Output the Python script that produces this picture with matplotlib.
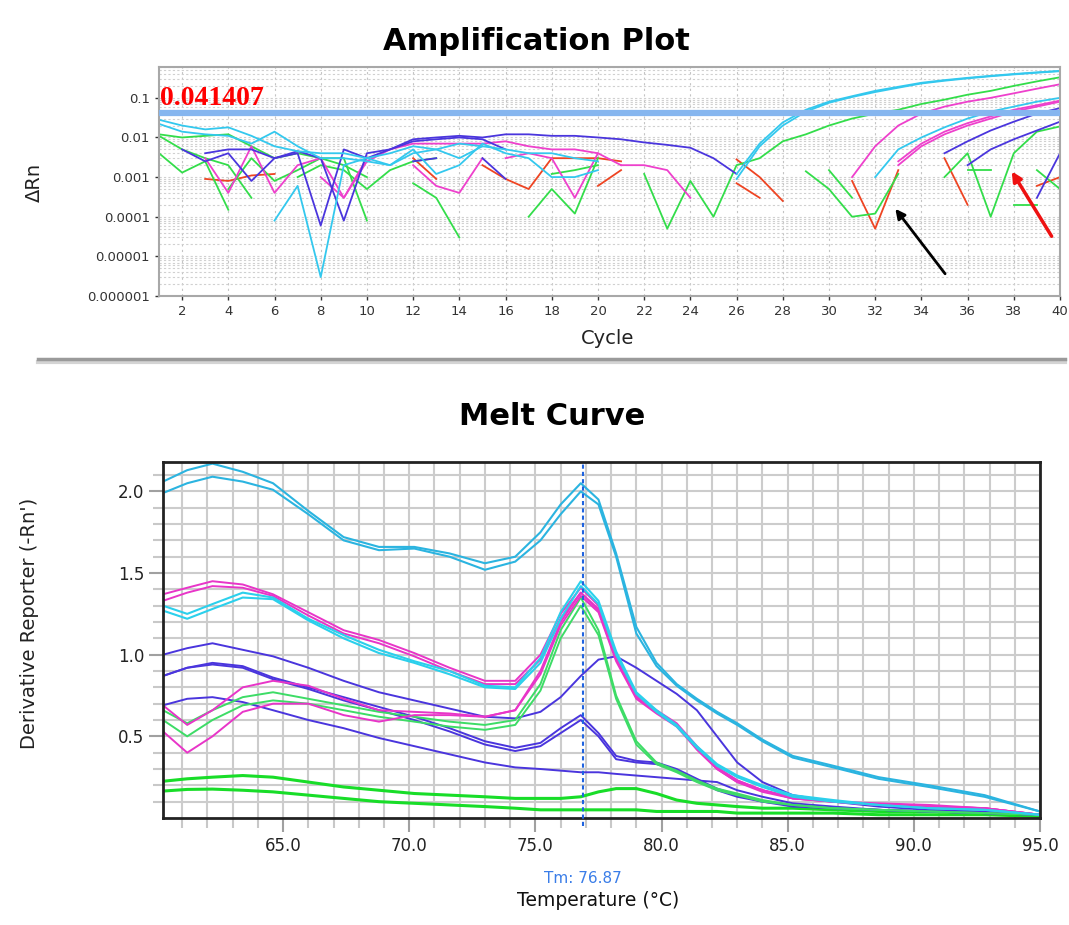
import matplotlib
matplotlib.use("Agg")
import matplotlib.pyplot as plt
import numpy as np
from matplotlib.lines import Line2D
from matplotlib.ticker import FixedLocator, NullFormatter, LogLocator

nan = np.nan

# ---------------- Amplification plot data (cycle -> delta Rn) ----------------
cycles = np.arange(1, 41)
threshold = 0.041407

# each entry: (first cycle)
amp_cyan = [
    (1, [0.028, 0.020, 0.016, 0.018, 0.011, 0.006, 0.0045, 0.004, 0.004, 0.003,
         0.004, 0.006, 0.005, 0.007, 0.006, 0.005, 0.004, 0.004, 0.003, 0.0025,
         nan, nan, nan, nan, nan, 0.0009, 0.006, 0.02, 0.045, 0.075,
         0.105, 0.14, 0.18, 0.23, 0.27, 0.31, 0.35, 0.39, 0.43, 0.47]),
    (1, [0.022, 0.014, 0.012, 0.011, 0.007, 0.014, 0.006, 0.003, 0.003, 0.0025,
         0.002, 0.005, 0.0012, 0.002, 0.007, 0.004, 0.003, 0.001, 0.001, 0.0015,
         nan, nan, nan, nan, nan, 0.0012, 0.007, 0.024, 0.05, 0.08,
         0.11, 0.15, 0.19, 0.24, 0.28, 0.32, 0.36, 0.40, 0.44, 0.48]),
    (6, [0.00008, 0.0006, 0.000003, 0.002, 0.003, 0.002, 0.004, 0.005, 0.003, 0.006]),
    (32, [0.001, 0.005, 0.01, 0.018, 0.03, 0.045, 0.06, 0.08, 0.1]),
]
amp_blue = [
    (2, [0.005, 0.0025, 0.004, 0.0008, 0.003, 0.004, 0.00006, 0.005, 0.003, 0.005,
         0.009, 0.010, 0.011, 0.010, 0.012, 0.012, 0.011, 0.011, 0.010, 0.009,
         0.0075, 0.0065, 0.0055, 0.003, 0.0012]),
    (3, [0.004, 0.005, 0.005, 0.003, 0.0045, 0.003, 0.00008, 0.004, 0.005, 0.008,
         0.009, 0.010, 0.009, 0.005]),
    (12, [0.0025, 0.003]),
    (15, [0.003, 0.0009]),
    (35, [0.004, 0.008, 0.015, 0.025, 0.04, 0.055]),
    (36, [0.002, 0.005, 0.009, 0.015, 0.025]),
    (39, [0.0003, 0.004]),
]
amp_magenta = [
    (3, [0.003, 0.0004, 0.006, 0.0004, 0.002, 0.003, 0.0003, 0.0025, 0.005, 0.007,
         0.007, 0.007, 0.007, 0.008, 0.006, 0.005, 0.005, 0.004, 0.002]),
    (8, [0.001, 0.0003, 0.003]),
    (12, [0.002, 0.0006, 0.0004, 0.003]),
    (16, [0.003, 0.004, 0.003, 0.0003, 0.004]),
    (21, [0.002, 0.002, 0.0015, 0.0003]),
    (31, [0.001, 0.006, 0.02, 0.04, 0.06, 0.08, 0.1, 0.13, 0.17, 0.22]),
    (33, [0.002, 0.006, 0.012, 0.02, 0.03, 0.045, 0.06, 0.08]),
    (33, [0.0025, 0.007, 0.014, 0.023, 0.034, 0.05, 0.065, 0.085]),
]
amp_green = [
    (1, [0.012, 0.010, 0.011, 0.012, 0.006, 0.003, 0.004, 0.003, 0.002, 0.001]),
    (1, [0.011, 0.005, 0.003, 0.002, 0.0003]),
    (1, [0.004, 0.0013, 0.0025, 0.00015]),
    (4, [0.0005, 0.003, 0.0008, 0.0015, 0.003, 0.003, 0.00008]),
    (7, [0.001, 0.002, 0.0015, 0.0005, 0.0015, 0.0025, 0.003]),
    (12, [0.0007, 0.0003, 0.00003]),
    (17, [0.0001, 0.0005, 0.00012, 0.003]),
    (18, [0.0012, 0.0015, 0.002]),
    (22, [0.0012, 0.00005, 0.0008, 0.0001, 0.002, 0.003, 0.008, 0.012, 0.02, 0.03,
          0.04, 0.05, 0.07, 0.09, 0.12, 0.15, 0.2, 0.26, 0.33]),
    (29, [0.0014, 0.0005, 0.0001, 0.00012, 0.0012]),
    (30, [0.0015, 0.0003]),
    (35, [0.001, 0.004, 0.0001, 0.004, 0.014, 0.019]),
    (36, [0.0015, 0.0015]),
    (38, [0.0002, 0.0002]),
    (39, [0.0015, 0.0005]),
]
amp_red = [
    (3, [0.0009, 0.0008, 0.0011, 0.0012]),
    (12, [0.003, 0.0009]),
    (15, [0.002, 0.0009, 0.0005, 0.003, 0.003, 0.003, 0.0025]),
    (20, [0.0006, 0.0015]),
    (26, [0.0028, 0.001, 0.00025]),
    (26, [0.0007, 0.0003]),
    (31, [0.0008, 0.00005, 0.0015]),
    (35, [0.003, 0.0002]),
    (39, [0.0006, 0.001]),
]
amp_colors = {"cyan": "#33c8ee", "blue": "#4a35dd", "magenta": "#ee40cc",
              "green": "#33dd4a", "red": "#ee4422"}

# ---------------- Melt curve data (temperature -> derivative) ----------------
temps = [60.24, 61.2, 62.2, 63.4, 64.6, 66.0, 67.4, 68.8, 70.2, 71.6, 73.0, 74.2,
         75.2, 76.0, 76.8, 77.5, 78.2, 79.0, 79.8, 80.6, 81.4, 82.2, 83.0, 84.0,
         85.2, 86.8, 88.6, 90.6, 92.8, 95.0]
tm = 76.87

melt_cyan_top = [
    [2.06, 2.13, 2.17, 2.12, 2.05, 1.88, 1.72, 1.66, 1.66, 1.62, 1.56, 1.60,
     1.75, 1.92, 2.05, 1.95, 1.62, 1.17, 0.95, 0.82, 0.73, 0.65, 0.58, 0.48,
     0.38, 0.32, 0.25, 0.20, 0.14, 0.04],
    [1.99, 2.05, 2.09, 2.06, 2.01, 1.86, 1.70, 1.64, 1.65, 1.60, 1.52, 1.57,
     1.70, 1.86, 2.00, 1.92, 1.60, 1.13, 0.93, 0.81, 0.72, 0.64, 0.57, 0.47,
     0.37, 0.31, 0.24, 0.19, 0.13, 0.04],
]
melt_cyan = [
    [1.30, 1.25, 1.31, 1.38, 1.35, 1.22, 1.12, 1.03, 0.96, 0.90, 0.81, 0.80,
     0.98, 1.26, 1.45, 1.33, 1.02, 0.77, 0.66, 0.57, 0.44, 0.33, 0.26, 0.20,
     0.14, 0.11, 0.08, 0.06, 0.05, 0.02],
    [1.27, 1.22, 1.28, 1.35, 1.34, 1.21, 1.10, 1.01, 0.95, 0.88, 0.80, 0.79,
     0.95, 1.22, 1.42, 1.31, 1.00, 0.76, 0.65, 0.56, 0.43, 0.32, 0.25, 0.19,
     0.13, 0.10, 0.08, 0.06, 0.05, 0.02],
]
melt_magenta = [
    [1.37, 1.41, 1.45, 1.43, 1.37, 1.26, 1.15, 1.09, 1.01, 0.92, 0.84, 0.84,
     1.00, 1.25, 1.41, 1.30, 1.00, 0.76, 0.65, 0.57, 0.42, 0.30, 0.22, 0.17,
     0.12, 0.10, 0.08, 0.07, 0.06, 0.02],
    [1.33, 1.38, 1.42, 1.41, 1.36, 1.24, 1.13, 1.07, 0.99, 0.90, 0.82, 0.82,
     0.97, 1.22, 1.38, 1.28, 0.98, 0.75, 0.66, 0.58, 0.44, 0.31, 0.23, 0.17,
     0.13, 0.10, 0.09, 0.08, 0.06, 0.02],
    [0.69, 0.57, 0.66, 0.80, 0.84, 0.81, 0.73, 0.66, 0.65, 0.64, 0.62, 0.66,
     0.90, 1.20, 1.38, 1.27, 0.97, 0.74, 0.65, 0.57, 0.43, 0.31, 0.23, 0.17,
     0.12, 0.10, 0.08, 0.07, 0.06, 0.02],
    [0.53, 0.40, 0.50, 0.65, 0.70, 0.70, 0.63, 0.59, 0.63, 0.63, 0.62, 0.66,
     0.88, 1.18, 1.36, 1.26, 0.96, 0.73, 0.64, 0.56, 0.42, 0.30, 0.22, 0.16,
     0.12, 0.10, 0.08, 0.07, 0.06, 0.02],
]
melt_green = [
    [0.66, 0.58, 0.66, 0.74, 0.77, 0.73, 0.69, 0.65, 0.62, 0.59, 0.57, 0.60,
     0.82, 1.15, 1.35, 1.15, 0.75, 0.47, 0.34, 0.29, 0.23, 0.18, 0.15, 0.11,
     0.08, 0.06, 0.05, 0.04, 0.03, 0.02],
    [0.60, 0.50, 0.60, 0.69, 0.72, 0.70, 0.66, 0.62, 0.59, 0.56, 0.54, 0.57,
     0.78, 1.10, 1.30, 1.12, 0.73, 0.45, 0.33, 0.28, 0.22, 0.17, 0.14, 0.10,
     0.08, 0.06, 0.05, 0.04, 0.03, 0.02],
]
melt_green_low = [
    [0.225, 0.24, 0.25, 0.26, 0.25, 0.22, 0.19, 0.17, 0.15, 0.14, 0.13, 0.12,
     0.12, 0.12, 0.13, 0.16, 0.18, 0.18, 0.15, 0.11, 0.09, 0.08, 0.07, 0.06,
     0.06, 0.05, 0.04, 0.04, 0.03, 0.02],
    [0.165, 0.175, 0.177, 0.17, 0.16, 0.14, 0.12, 0.10, 0.09, 0.08, 0.07, 0.06,
     0.05, 0.05, 0.05, 0.05, 0.05, 0.05, 0.04, 0.04, 0.04, 0.04, 0.03, 0.03,
     0.03, 0.03, 0.02, 0.02, 0.02, 0.01],
]
melt_blue = [
    [1.00, 1.04, 1.07, 1.03, 0.99, 0.92, 0.84, 0.77, 0.72, 0.67, 0.62, 0.61,
     0.65, 0.74, 0.87, 0.97, 0.99, 0.92, 0.84, 0.76, 0.66, 0.50, 0.34, 0.22,
     0.14, 0.10, 0.07, 0.05, 0.04, 0.02],
    [0.87, 0.92, 0.95, 0.93, 0.86, 0.80, 0.74, 0.68, 0.62, 0.55, 0.47, 0.43,
     0.46, 0.55, 0.63, 0.52, 0.38, 0.35, 0.34, 0.30, 0.24, 0.18, 0.14, 0.10,
     0.08, 0.06, 0.05, 0.04, 0.03, 0.02],
    [0.87, 0.92, 0.94, 0.92, 0.85, 0.79, 0.72, 0.66, 0.60, 0.53, 0.45, 0.41,
     0.44, 0.52, 0.60, 0.50, 0.36, 0.34, 0.33, 0.29, 0.23, 0.17, 0.13, 0.10,
     0.07, 0.06, 0.05, 0.04, 0.03, 0.02],
    [0.69, 0.73, 0.74, 0.71, 0.66, 0.60, 0.55, 0.49, 0.44, 0.39, 0.34, 0.31,
     0.30, 0.29, 0.28, 0.28, 0.27, 0.26, 0.25, 0.24, 0.23, 0.22, 0.17, 0.13,
     0.09, 0.07, 0.05, 0.04, 0.03, 0.02],
]


def padded(start, values):
    # put a segment into a full 40-cycle array, gaps as nan
    arr = np.full(len(cycles), np.nan)
    arr[start - 1:start - 1 + len(values)] = values
    return arr


W, H = 1069, 925
fig = plt.figure(figsize=(W / 100, H / 100), dpi=100)
fig.patch.set_facecolor("white")


def fx(px):
    return px / W


def fy(py):
    return 1 - py / H


# ---------------- top: amplification plot ----------------
ax1 = fig.add_axes([fx(159), fy(296), fx(1060) - fx(159), fy(67) - fy(296)])
ax1.set_yscale("log")
ax1.set_xlim(1, 40)
ax1.set_ylim(1e-6, 0.6)

for name, segs in [("red", amp_red), ("green", amp_green), ("magenta", amp_magenta),
                   ("blue", amp_blue), ("cyan", amp_cyan)]:
    for start, vals in segs:
        ax1.plot(cycles, padded(start, vals), color=amp_colors[name], lw=1.3)

ax1.axhline(threshold, color="#86b6ef", lw=4.5, zorder=5)
ax1.text(1.05, 0.046, "0.041407", color="#ff0000", fontsize=20, fontweight="bold",
         family="Liberation Serif", ha="left", va="bottom", zorder=6)

ax1.set_xticks(range(2, 41, 2))
ax1.set_yticks([1e-6, 1e-5, 1e-4, 1e-3, 1e-2, 1e-1])
ax1.set_yticklabels(["0.000001", "0.00001", "0.0001", "0.001", "0.01", "0.1"])
ax1.yaxis.set_minor_locator(LogLocator(base=10, subs=range(2, 10)))
ax1.yaxis.set_minor_formatter(NullFormatter())
ax1.tick_params(axis="both", which="major", labelsize=9.5, colors="#333333",
                length=3, width=1)
ax1.tick_params(axis="y", which="minor", length=0)
ax1.grid(True, which="major", axis="x", ls=(0, (2, 3)), color="#c4c4c4", lw=0.8)
ax1.grid(True, which="both", axis="y", ls=(0, (2, 2)), color="#d0d0d0", lw=0.8)
for sp in ax1.spines.values():
    sp.set_color("#a8a8a8")
    sp.set_linewidth(1.5)

ax1.annotate("", xy=(32.8, 1.8e-4), xytext=(35.1, 3.2e-6),
             arrowprops=dict(arrowstyle="-|>", color="black", lw=2, mutation_scale=14))
ax1.annotate("", xy=(37.85, 1.6e-3), xytext=(39.7, 2.8e-5),
             arrowprops=dict(arrowstyle="-|>", color="#ee1111", lw=2.5, mutation_scale=14))

fig.text(fx(536), fy(42), "Amplification Plot", fontsize=22, fontweight="bold",
         ha="center", va="center")
fig.text(fx(608), fy(338), "Cycle", fontsize=14, ha="center", va="center",
         color="#222222")
fig.text(fx(34), fy(182), "ΔRn", fontsize=14, ha="center", va="center",
         rotation=90, color="#222222")

# separator
fig.add_artist(Line2D([fx(38), fx(1065)], [fy(362), fy(362)], color="#d4d4d4",
                      lw=3, transform=fig.transFigure))
fig.add_artist(Line2D([fx(38), fx(1065)], [fy(359), fy(359)], color="#9a9a9a",
                      lw=2.5, transform=fig.transFigure))

# ---------------- bottom: melt curve ----------------
ax2 = fig.add_axes([fx(163), fy(818), fx(1040) - fx(163), fy(462) - fy(818)])
ax2.set_xlim(60.24, 95.0)
ax2.set_ylim(0, 2.18)

for vals in melt_green_low:
    ax2.plot(temps, vals, color="#18dd28", lw=2.2)
for vals in melt_blue:
    ax2.plot(temps, vals, color="#4a35dd", lw=1.4)
for vals in melt_green:
    ax2.plot(temps, vals, color="#3ddc66", lw=1.4)
for vals in melt_magenta:
    ax2.plot(temps, vals, color="#e835c8", lw=1.4)
for vals in melt_cyan:
    ax2.plot(temps, vals, color="#2bd0ec", lw=1.5)
for vals in melt_cyan_top:
    ax2.plot(temps, vals, color="#2bb4e0", lw=1.5)

ax2.plot([tm, tm], [-0.05, 2.18], color="#1f63e0", ls=(0, (2, 1.5)), lw=1.5,
         clip_on=False, zorder=6)
ax2.text(tm, -0.37, "Tm: 76.87", color="#3a7de8", fontsize=11, ha="center",
         va="center")

ax2.xaxis.set_major_locator(FixedLocator([65, 70, 75, 80, 85, 90, 95]))
ax2.xaxis.set_minor_locator(FixedLocator(np.arange(61, 95, 1)))
ax2.set_xticklabels(["65.0", "70.0", "75.0", "80.0", "85.0", "90.0", "95.0"])
ax2.yaxis.set_major_locator(FixedLocator([0.5, 1.0, 1.5, 2.0]))
ax2.yaxis.set_minor_locator(FixedLocator(np.arange(0.1, 2.15, 0.1)))
ax2.set_yticklabels(["0.5", "1.0", "1.5", "2.0"])
ax2.tick_params(axis="both", which="major", labelsize=12, colors="#222222",
                length=10, width=1.5)
ax2.tick_params(axis="both", which="major", color="#a0a0a0")
ax2.tick_params(axis="both", which="minor", length=7, width=1.5, color="#c8c8c8")
ax2.grid(True, which="both", color="#cccccc", lw=1.5)
ax2.set_axisbelow(True)
for sp in ax2.spines.values():
    sp.set_color("#222222")
    sp.set_linewidth(2)

fig.text(fx(552), fy(416), "Melt Curve", fontsize=22, fontweight="bold",
         ha="center", va="center")
fig.text(fx(598), fy(900), "Temperature (°C)", fontsize=13.5, ha="center",
         va="center", color="#111111")
fig.text(fx(30), fy(623), "Derivative Reporter (-Rn')", fontsize=14,
         ha="center", va="center", rotation=90, color="#222222")

fig.savefig("out.png", dpi=100)
